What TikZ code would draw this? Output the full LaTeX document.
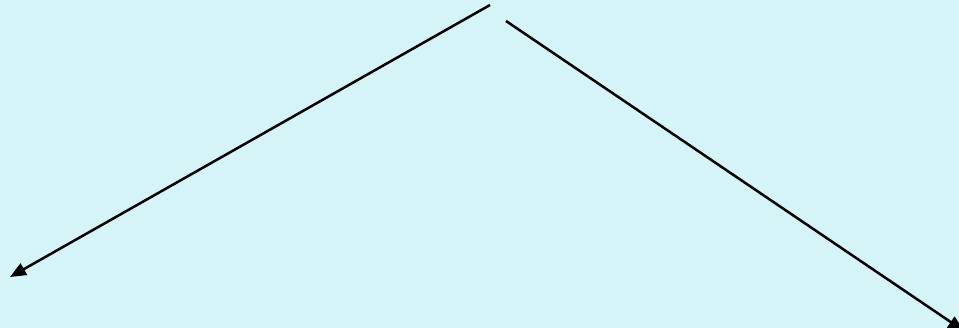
\documentclass[tikz,border=0pt]{standalone}
\usetikzlibrary{arrows.meta}
\definecolor{bgc}{RGB}{212,244,247}
\begin{document}
\begin{tikzpicture}[x=1pt,y=-1pt,
  conn/.style={line width=2.5pt,black,-{Triangle[length=16pt,width=13pt]}}]
\fill[bgc] (0,0) rectangle (959,328);
\useasboundingbox (0,0) rectangle (959,328);
\coordinate (s1) at (490,5);
\coordinate (e1) at (10,277);
\coordinate (s2) at (506,21);
\coordinate (e2) at (964,331);
\draw[conn] (s1) -- (e1);
\draw[conn] (s2) -- (e2);
\end{tikzpicture}
\end{document}
